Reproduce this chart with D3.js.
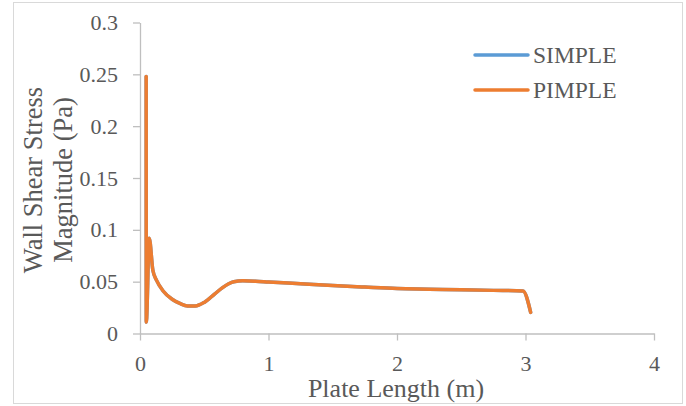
<!DOCTYPE html>
<html>
<head>
<meta charset="utf-8">
<script src="https://cdn.jsdelivr.net/npm/d3@7"></script>
<style>
  body { margin: 0; background: #fff; }
  svg text { font-family: "Liberation Serif", serif; fill: #595959; }
</style>
</head>
<body>
<script>
// plate length (m) and wall shear stress magnitude (Pa)
var plateX = [0.048, 0.049, 0.072, 0.10, 0.13, 0.18, 0.25, 0.31, 0.37, 0.43, 0.50, 0.58, 0.64, 0.69, 0.73, 0.80, 0.90, 1.0, 1.25, 1.5, 1.75, 2.0, 2.25, 2.5, 2.75, 2.98, 3.04];
var simpleY = [0.248, 0.011, 0.092, 0.061, 0.051, 0.041, 0.033, 0.029, 0.0265, 0.0265, 0.030, 0.038, 0.044, 0.048, 0.050, 0.0508, 0.0505, 0.0497, 0.048, 0.0462, 0.0448, 0.0435, 0.0428, 0.0421, 0.0416, 0.0411, 0.0204];
var pimpleY = [0.248, 0.011, 0.092, 0.061, 0.051, 0.041, 0.033, 0.029, 0.0265, 0.0265, 0.030, 0.038, 0.044, 0.048, 0.050, 0.0508, 0.0505, 0.0497, 0.048, 0.0462, 0.0448, 0.0435, 0.0428, 0.0421, 0.0416, 0.0411, 0.0204];
var seriesNames = ["SIMPLE", "PIMPLE"];
var seriesColors = ["#5B9BD5", "#ED7D31"];
var xTicks = [0, 1, 2, 3, 4];
var yTicks = [0, 0.05, 0.1, 0.15, 0.2, 0.25, 0.3];

var W = 686, H = 406,
    margin = {top: 22.5, left: 140},
    width = 514,
    height = 311;

var svg = d3.select("body").append("svg")
    .attr("width", W)
    .attr("height", H);

// chart border
svg.append("rect")
    .attr("x", 13.5).attr("y", 2.5)
    .attr("width", 669).attr("height", 401)
    .attr("fill", "none")
    .attr("stroke", "#d9d9d9");

var x = d3.scaleLinear().domain([0, 4]).range([0, width]);
var y = d3.scaleLinear().domain([0, 0.3]).range([height, 0]);

var g = svg.append("g")
    .attr("transform", "translate(" + margin.left + "," + margin.top + ")");

var yAxis = g.append("g")
    .call(d3.axisLeft(y).tickValues(yTicks).tickSize(7).tickSizeOuter(0).tickPadding(15)
      .tickFormat((d) => d3.format("~g")(d)));

var xAxis = g.append("g")
    .attr("transform", "translate(0," + height + ")")
    .call(d3.axisBottom(x).tickValues(xTicks).tickSize(7).tickSizeOuter(0).tickPadding(12)
      .tickFormat(d3.format("d")));

[yAxis, xAxis].forEach(function(a) {
  a.attr("font-family", "Liberation Serif").attr("font-size", 22);
  a.selectAll("path, line").attr("stroke", "#bfbfbf").attr("stroke-width", 1.3);
  a.selectAll("text").attr("fill", "#595959");
});
xAxis.selectAll("text").attr("dy", "0.85em");

var line = d3.line()
    .x((d) => x(d[0]))
    .y((d) => y(d[1]))
    .curve(d3.curveMonotoneX);

[simpleY, pimpleY].forEach(function(vals, i) {
  g.append("path")
    .datum(plateX.map((px, j) => [px, vals[j]]))
    .attr("fill", "none")
    .attr("stroke", seriesColors[i])
    .attr("stroke-width", 3.5)
    .attr("stroke-linejoin", "round")
    .attr("stroke-linecap", "round")
    .attr("d", line);
});

// legend
var legend = svg.append("g");
seriesNames.forEach(function(name, i) {
  var ly = 55 + i * 35;
  legend.append("line")
    .attr("x1", 475).attr("x2", 528)
    .attr("y1", ly).attr("y2", ly)
    .attr("stroke", seriesColors[i])
    .attr("stroke-width", 3.5)
    .attr("stroke-linecap", "round");
  legend.append("text")
    .attr("x", 533).attr("y", ly + 8)
    .style("font-size", "23.5px")
    .text(name);
});

// axis titles
svg.append("text")
    .attr("x", 396).attr("y", 397)
    .attr("text-anchor", "middle")
    .style("font-size", "26px")
    .text("Plate Length (m)");

var yt = svg.append("text")
    .attr("transform", "translate(0,180) rotate(-90)")
    .attr("text-anchor", "middle")
    .style("font-size", "26.5px");
yt.append("tspan").attr("x", 0).attr("y", 42).text("Wall Shear Stress");
yt.append("tspan").attr("x", 0).attr("y", 72).text("Magnitude (Pa)");
</script>
</body>
</html>
